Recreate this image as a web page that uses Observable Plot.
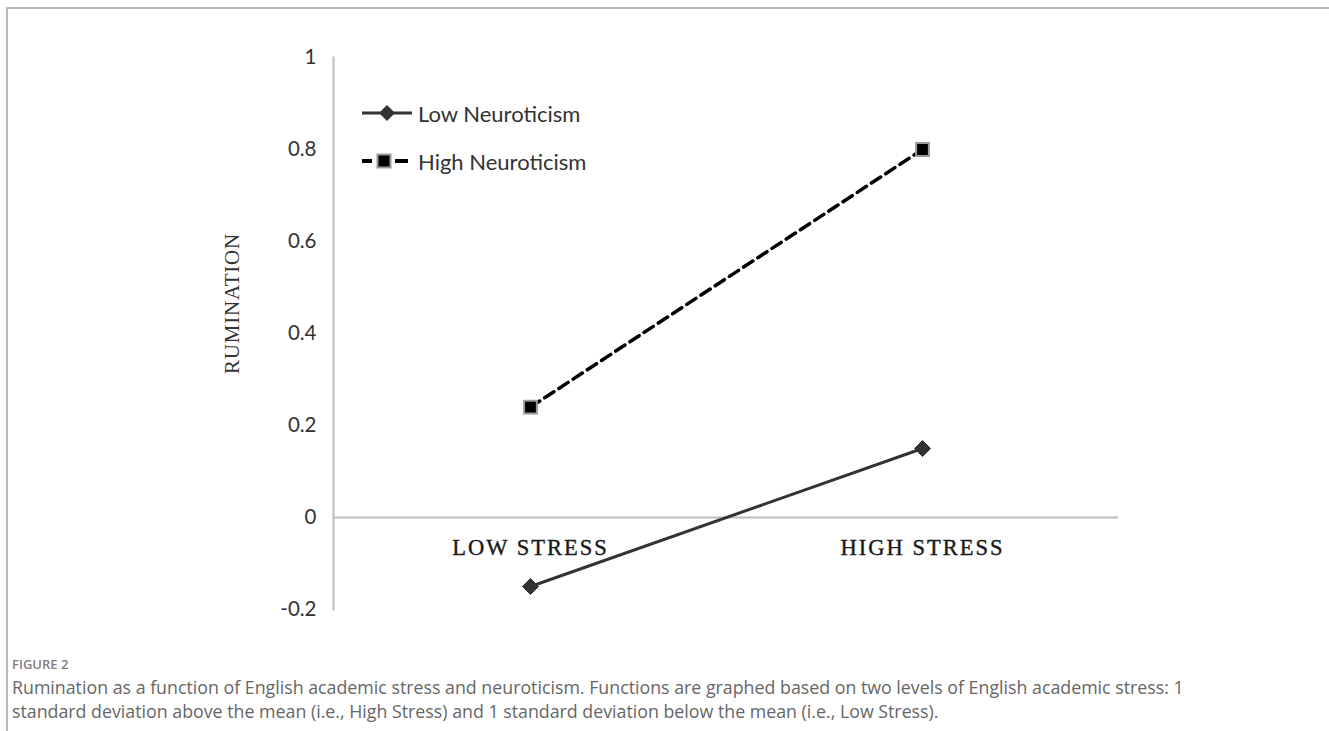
<!DOCTYPE html>
<html>
<head>
<meta charset="utf-8">
<script src="https://cdn.jsdelivr.net/npm/d3@7"></script>
<script src="https://cdn.jsdelivr.net/npm/@observablehq/plot@0.6"></script>
<style>
  html, body { margin: 0; padding: 0; background: #fff; }
  body { width: 1329px; height: 731px; position: relative; overflow: hidden; }
  #frame { position: absolute; left: 6px; top: 7px; right: 0; bottom: -10px;
           border-top: 2px solid #b8b8b8; border-left: 2px solid #b8b8b8; }
  #chart { position: absolute; left: 0; top: 0; }
  #legend { position: absolute; left: 360px; top: 96px; font-family: Lato, "Open Sans", sans-serif;
            font-size: 22px; color: #333; }
  .lg-row { display: flex; align-items: center; height: 34px; margin-bottom: 14px; }
  .lg-row svg { margin-right: 4px; }
  #caption { position: absolute; left: 12px; top: 652px; font-family: "Open Sans", "Noto Sans", sans-serif; color: #666; }
  #fig { font-size: 13px; font-weight: 600; color: #808080; line-height: 24px; }
  #text { font-size: 17.8px; line-height: 23.5px; color: #666; white-space: nowrap; }
</style>
</head>
<body>
<div id="frame"></div>
<div id="chart"></div>
<div id="legend"></div>
<div id="caption">
  <div id="fig">FIGURE 2</div>
  <div id="text">Rumination as a function of English academic stress and neuroticism. Functions are graphed based on two levels of English academic stress: 1<br>standard deviation above the mean (i.e., High Stress) and 1 standard deviation below the mean (i.e., Low Stress).</div>
</div>
<script>
// ---- data ----
const categories = ["LOW STRESS", "HIGH STRESS"];
const seriesNames = ["Low Neuroticism", "High Neuroticism"];
const lowNeuroticism = [-0.15, 0.15];
const highNeuroticism = [0.24, 0.80];
const yTicks = [-0.2, 0, 0.2, 0.4, 0.6, 0.8, 1];
const yLabel = "RUMINATION";

const lowData = categories.map((c, i) => ({cat: c, value: lowNeuroticism[i], series: seriesNames[0]}));
const highData = categories.map((c, i) => ({cat: c, value: highNeuroticism[i], series: seriesNames[1]}));

const fmt = d => d === 0 ? "0" : String(Math.round(d * 10) / 10);
const serifFont = "'Liberation Serif', 'DejaVu Serif', serif";

const chart = Plot.plot({
  width: 1329,
  height: 640,
  marginTop: 57,
  marginBottom: 31,
  marginLeft: 333,
  marginRight: 211,
  x: {type: "band", domain: categories, padding: 0, axis: null},
  y: {domain: [-0.2, 1], axis: null},
  style: {background: "transparent", overflow: "visible"},
  marks: [
    Plot.frame({anchor: "left", stroke: "#bdbdbd", strokeWidth: 2}),
    Plot.ruleY([0], {stroke: "#bdbdbd", strokeWidth: 2}),
    Plot.axisY({ticks: yTicks, tickSize: 0, tickPadding: 17, tickFormat: fmt,
      fontSize: 20.5, fill: "#333", label: null, fontFamily: "Lato, 'Open Sans', sans-serif"}),
    Plot.text(categories, {x: d => d, y: () => 0, dy: 30, text: d => d,
      fontFamily: serifFont, fontSize: 22.5, fill: "#1a1a1a", stroke: "#1a1a1a", strokeWidth: 0.4}),
    Plot.text([yLabel], {frameAnchor: "left", textAnchor: "middle", dx: -101, dy: -30, rotate: -90, text: d => d,
      fontFamily: serifFont, fontSize: 21, fill: "#333"}),
    Plot.line(lowData, {x: "cat", y: "value", stroke: "#333", strokeWidth: 3}),
    Plot.line(highData, {x: "cat", y: "value", stroke: "#000", strokeWidth: 3.5, strokeDasharray: "11,6"}),
    Plot.dot(lowData, {x: "cat", y: "value", symbol: "diamond2", r: 7.2, fill: "#333", stroke: "#333", strokeWidth: 1}),
    Plot.dot(highData, {x: "cat", y: "value", symbol: "square", r: 7.2, fill: "#000", stroke: "#9a9a9a", strokeWidth: 2})
  ]
});
document.getElementById("chart").appendChild(chart);
// letter spacing for the serif labels
chart.querySelectorAll("text").forEach(t => {
  if (t.textContent === yLabel) t.style.letterSpacing = "0.8px";
  else if (categories.includes(t.textContent)) t.style.letterSpacing = "2px";
});

// ---- legend ----
const legend = document.getElementById("legend");
const sw = [
  `<svg width="54" height="20" viewBox="0 0 54 20"><line x1="2" y1="10" x2="52" y2="10" stroke="#333" stroke-width="3"/><path d="M27,2 L35,10 L27,18 L19,10 Z" fill="#333"/></svg>`,
  `<svg width="54" height="20" viewBox="0 0 54 20"><line x1="2" y1="10" x2="12" y2="10" stroke="#000" stroke-width="4"/><line x1="35" y1="10" x2="48" y2="10" stroke="#000" stroke-width="4"/><rect x="17.5" y="3.5" width="13" height="13" fill="#000" stroke="#9a9a9a" stroke-width="2"/></svg>`
];
seriesNames.forEach((name, i) => {
  const row = document.createElement("div");
  row.className = "lg-row";
  row.innerHTML = sw[i] + `<span>${name}</span>`;
  legend.appendChild(row);
});
</script>
</body>
</html>
